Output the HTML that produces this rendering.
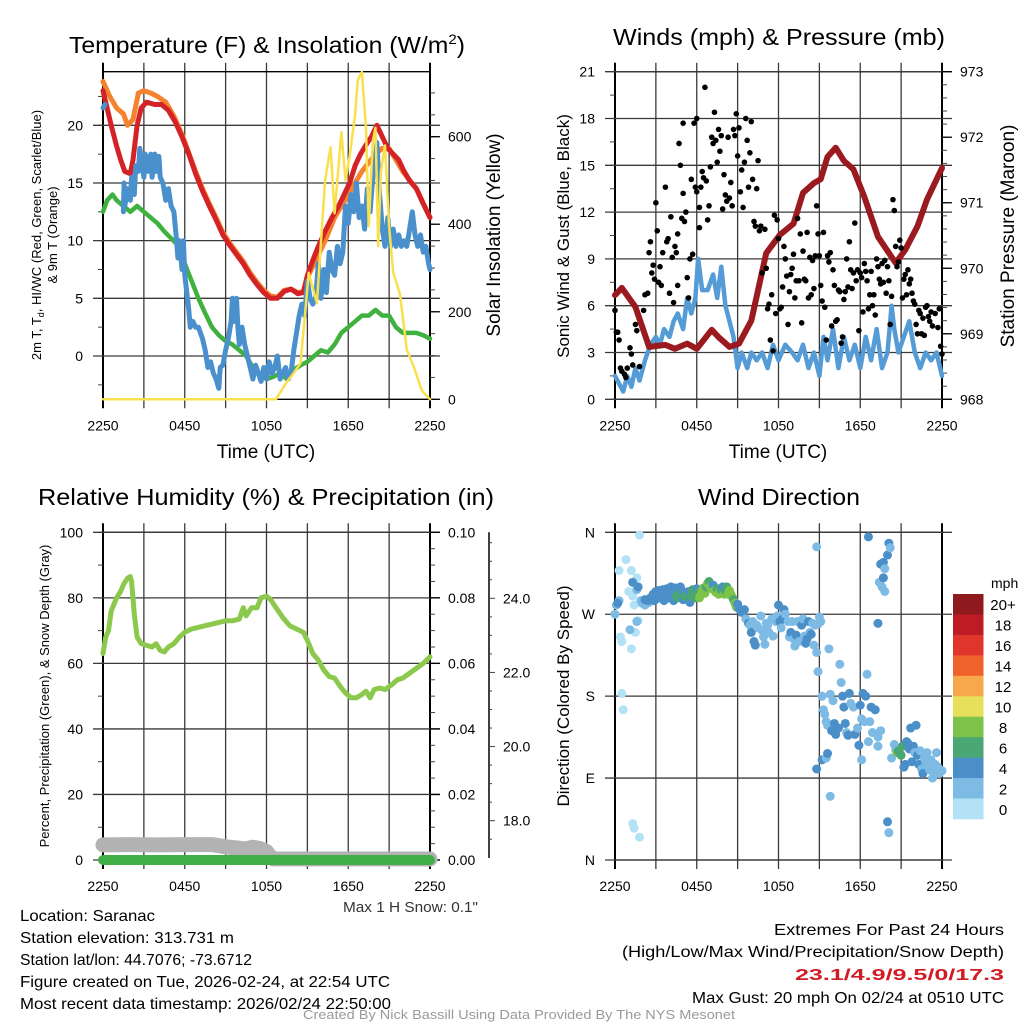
<!DOCTYPE html>
<html><head><meta charset="utf-8"><style>
html,body{margin:0;padding:0;background:#fff;}
svg{display:block;font-family:"Liberation Sans",sans-serif;}
.narrow{font-family:"Liberation Sans Narrow","Liberation Sans",sans-serif;}
</style></head><body>
<svg id="chart" width="1024" height="1024" viewBox="0 0 1024 1024" xmlns="http://www.w3.org/2000/svg">
<rect x="0" y="0" width="1024" height="1024" fill="#fff"/>
<text x="267" y="53" font-size="23" text-anchor="middle" textLength="396" lengthAdjust="spacingAndGlyphs">Temperature (F) &amp; Insolation (W/m<tspan font-size="14" dy="-9">2</tspan><tspan dy="9">)</tspan></text>
<text x="779" y="45" font-size="23" text-anchor="middle" textLength="332" lengthAdjust="spacingAndGlyphs">Winds (mph) &amp; Pressure (mb)</text>
<text x="266" y="505" font-size="23" text-anchor="middle" textLength="456" lengthAdjust="spacingAndGlyphs">Relative Humidity (%) &amp; Precipitation (in)</text>
<text x="779" y="505" font-size="23" text-anchor="middle" textLength="162" lengthAdjust="spacingAndGlyphs">Wind Direction</text>

<text x="266" y="458" font-size="19" text-anchor="middle">Time (UTC)</text>
<text x="778" y="458" font-size="19" text-anchor="middle">Time (UTC)</text>

<g transform="translate(41,235) rotate(-90)">
<text x="0" y="0" font-size="13" text-anchor="middle">2m T, T<tspan font-size="9" dy="3">d</tspan><tspan dy="-3">, HI/WC (Red, Green, Scarlet/Blue)</tspan></text>
<text x="0" y="16" font-size="13" text-anchor="middle">&amp; 9m T (Orange)</text>
</g>
<text transform="translate(500,235) rotate(-90)" font-size="19" text-anchor="middle">Solar Insolation (Yellow)</text>
<text transform="translate(569,236) rotate(-90)" font-size="17" text-anchor="middle">Sonic Wind &amp; Gust (Blue, Black)</text>
<text transform="translate(1014,236) rotate(-90)" font-size="19" text-anchor="middle">Station Pressure (Maroon)</text>
<text transform="translate(49,696) rotate(-90)" font-size="13" text-anchor="middle">Percent, Precipitation (Green), &amp; Snow Depth (Gray)</text>
<text transform="translate(569,696) rotate(-90)" font-size="17" text-anchor="middle">Direction (Colored By Speed)</text>

<text class="narrow" x="478" y="912" font-size="15" text-anchor="end" fill="#333" textLength="135" lengthAdjust="spacingAndGlyphs">Max 1 H Snow: 0.1"</text>
<g class="narrow" font-size="16" fill="#000">
<text x="20" y="921" textLength="135" lengthAdjust="spacingAndGlyphs">Location: Saranac</text>
<text x="20" y="943" textLength="214" lengthAdjust="spacingAndGlyphs">Station elevation: 313.731 m</text>
<text x="20" y="965" textLength="232" lengthAdjust="spacingAndGlyphs">Station lat/lon: 44.7076; -73.6712</text>
<text x="20" y="987" textLength="370" lengthAdjust="spacingAndGlyphs">Figure created on Tue, 2026-02-24, at 22:54 UTC</text>
<text x="20" y="1009" textLength="371" lengthAdjust="spacingAndGlyphs">Most recent data timestamp: 2026/02/24 22:50:00</text>
</g>
<g class="narrow" font-size="16" text-anchor="end">
<text x="1004" y="935" textLength="230" lengthAdjust="spacingAndGlyphs">Extremes For Past 24 Hours</text>
<text x="1004" y="957" textLength="382" lengthAdjust="spacingAndGlyphs">(High/Low/Max Wind/Precipitation/Snow Depth)</text>
<text x="1004" y="980" fill="#d01c24" font-weight="bold" textLength="209" lengthAdjust="spacingAndGlyphs">23.1/4.9/9.5/0/17.3</text>
<text x="1004" y="1003" textLength="312" lengthAdjust="spacingAndGlyphs">Max Gust: 20 mph On 02/24 at 0510 UTC</text>
</g>
<text class="narrow" x="519" y="1019" font-size="13" fill="#9a9a9a" text-anchor="middle" textLength="432" lengthAdjust="spacingAndGlyphs">Created By Nick Bassill Using Data Provided By The NYS Mesonet</text>
</svg>
<script>
// ---------- data ----------
const xTickLabels = ['2250','0450','1050','1650','2250'];
const xTickHours = [0,6,12,18,24];

const redT = [0,0.3,0.6,1.0,1.3,1.6,2.0,2.2,2.5,2.8,3.2,3.8,4.3,4.8,5.3,5.8,6.3,6.8,7.3,7.8,8.3,8.8,9.3,9.8,10.3,10.8,11.3,11.8,12.3,12.8,13.3,13.8,14.3,14.7,15.0,15.4,15.8,16.3,16.8,17.3,17.7,18.1,18.5,18.9,19.3,19.7,20.1,20.5,20.9,21.3,21.7,22.1,22.5,23.0,23.5,24];
const redV = [23.0,21.5,20,18.2,17,16,15.8,17,20,21.5,22,21.8,21.8,21.3,20.3,19,17.5,15.8,14.3,13,11.8,10.5,9.6,8.8,8,7,6.2,5.5,5.0,5.0,5.6,5.8,5.4,5.5,7,8.3,9.5,10.8,12,13,14,15,16.5,17.5,18.3,19,20,19,18,17.5,17,16,15.2,14.5,13.2,12];
const orangeT = [0,0.5,1.0,1.5,1.8,2.2,2.6,3.0,3.5,4.0,4.6,5.2,5.8,6.3,6.8,7.3,7.8,8.3,8.8,9.3,9.8,10.3,10.8,11.3,11.8,12.3,12.8,13.3,13.8,14.3,14.7,15.0,15.5,16.3,17.0,18.0,19.0,20.0,20.5,21.0,22.0,23.0,24];
const orangeV = [23.8,22.5,21.5,21,20,20.5,22.8,23,22.8,22.5,22,20.8,19.2,17.6,16,14.5,13.2,12,10.7,9.8,9,8.2,7.2,6.4,5.7,5.2,5.1,5.7,5.8,5.5,5.6,6.8,8,10,12,14,16,17.5,18,18,16,14.5,12];
const greenT = [0,0.3,0.7,1.0,1.5,2.0,2.5,3.0,3.5,4.0,4.5,5.0,5.5,6.0,6.5,7.0,7.5,8.0,8.5,9.0,9.5,10.0,10.5,11.0,11.5,12.0,12.5,13.0,13.5,14.0,14.5,15.0,15.5,16.0,16.5,17.0,17.5,18.0,18.5,19.0,19.5,20.0,20.5,21.0,21.5,22.0,22.5,23.0,23.5,24];
const greenV = [12.5,13.5,14,13.5,13,12.5,13,12.5,12,11.5,10.8,10.2,9.6,8,6.5,5,3.7,2.5,1.8,1.3,1,0.5,0,-1,-1.5,-2,-1.8,-1.5,-2,-1.2,-0.8,-0.5,0,0.5,0.3,1,2,2.5,3,3.5,3.5,4,3.5,3.5,2.5,2,2,2,1.8,1.5];
const blueT = [0,0.15,null,1.5,1.55,1.6,1.8,2.0,2.1,2.3,2.4,2.6,2.7,2.8,3.0,3.1,3.3,3.5,3.6,3.8,3.9,4.1,4.2,4.4,4.6,4.8,5.0,5.2,5.4,5.5,5.6,5.8,5.9,6.0,6.2,6.3,6.4,6.6,6.8,7.0,7.3,7.5,7.7,7.9,8.1,8.3,8.5,8.6,8.8,9.0,9.2,9.4,9.5,9.6,9.8,9.9,10.0,10.2,10.4,10.6,10.8,11.0,11.2,11.4,11.6,11.8,12.0,12.2,12.4,12.6,12.8,13.0,13.2,13.4,13.6,13.8,14.0,14.2,14.4,14.6,14.8,15.0,15.2,15.4,15.6,15.8,16.0,16.2,16.4,16.6,16.8,17.0,17.2,17.4,17.6,17.8,18.0,18.2,18.4,18.6,18.8,19.0,19.2,19.4,19.6,19.8,20.0,20.1,20.3,20.5,20.7,20.9,21.1,21.3,21.5,21.7,21.9,22.1,22.3,22.5,22.7,22.9,23.1,23.3,23.5,23.7,23.9,24];
const blueV = [21.5,21.8,null,12.5,15,13,14.5,13.5,15.5,14,16.5,16,18,17,15.5,17.5,16,17.5,15.5,17.5,16,17.3,15.5,15,13.5,14.5,13,12.5,10,8.5,10,7.5,10,7,5,4,2.5,3,2.5,2.5,1.5,0.5,-1,-0.5,-1.5,-2,-2.8,-1,-0.8,0.5,1.5,3,5,3,5,2.5,1,2.5,1,0,-1,-2,-0.8,-1.5,-2.2,-1,-2,-0.5,-1.5,-1,0,-2,-1.5,-1,-2,-1.5,0.5,2,3.5,4.5,3.5,6.5,5,4.5,5,8,5,7.5,5.5,9,7.5,7,9.5,8,9,13,11.5,14,12.5,15,12,13,11,14.5,12.5,15.5,17,18.5,14,11,9.5,12,9.5,11,9.5,10.5,9.5,10,9.5,11,12.5,10.5,9.5,10.5,9,9.5,8,7.5];
const solarT = [0,12.7,13.0,13.5,14.0,14.5,15.1,15.7,16.3,16.7,17.0,17.5,17.8,18.1,18.5,18.7,19.0,19.3,19.5,19.8,20.0,20.2,20.4,20.7,21.0,21.3,21.8,22.3,22.8,23.4,24];
const solarV = [0,0,15,40,60,83,289,220,500,576,425,610,500,555,650,730,748,620,395,590,620,350,520,580,395,290,240,113,75,20,0];
const tempTicks = [0,5,10,15,20];
const solarTicks = [0,200,400,600];

const windT = [0,0.3,0.6,0.9,1.2,1.5,1.8,2.2,2.6,3.0,3.3,3.6,4.0,4.3,4.6,5.0,5.3,5.6,5.9,6.1,6.4,6.8,7.2,7.5,7.8,8.1,8.4,8.7,9.0,9.3,9.7,10.0,10.4,10.8,11.2,11.6,12.0,12.5,13.0,13.4,13.8,14.2,14.6,15.0,15.3,15.6,16.0,16.4,16.8,17.2,17.6,18.0,18.4,18.8,19.2,19.6,20.0,20.3,20.5,20.8,21.2,21.6,22.0,22.4,22.8,23.2,23.6,24];
const windV = [1.5,1.0,0.5,1.5,0.8,2,1.2,2.5,3.5,4,3.5,4.5,4,5,5.5,4.5,6.5,5.5,6.5,9,7,7,8,6.5,8.5,6,5,4,2,3,2,3,2.5,3,2,3.5,2.5,3.5,3,2.5,3.5,2,3,1.5,4,2.5,4.5,2,4,2.5,3.5,2,4,2.5,4.5,2,3,6,4.5,3,4,5,3,2,3,2.5,3,1.5];
const pressT = [0,0.5,1.5,2.5,3.7,4.4,5.3,6.0,7.1,7.6,8.4,9.1,10.0,11.1,12.1,13.1,13.8,14.6,15.1,15.6,16.2,16.8,17.5,18.3,19.3,20.6,21.3,22.2,22.9,24];
const pressV = [969.59,969.70,969.41,968.80,968.83,968.77,968.85,968.77,969.06,968.95,968.80,968.85,969.2,970.23,970.51,970.68,971.15,971.3,971.36,971.70,971.84,971.64,971.51,971.09,970.48,970.08,970.28,970.64,971.05,971.53];
const gustT = [0,0.1,0.2,0.3,0.4,0.5,0.7,0.8,0.9,1.1,1.2,1.3,1.5,1.6,1.8,2.1,2.2,2.4,2.5,2.6,2.7,2.8,2.9,3.0,3.1,3.2,3.3,3.4,3.5,3.7,3.8,3.9,4.0,4.1,4.2,4.3,4.4,4.5,4.6,4.6,4.7,4.8,4.9,5.0,5.0,5.1,5.2,5.3,5.4,5.5,5.6,5.7,5.8,5.9,6.0,6.0,6.2,6.2,6.3,6.4,6.5,6.6,6.7,6.8,6.9,7.0,7.1,7.2,7.3,7.4,7.5,7.6,7.7,7.8,7.9,8.0,8.1,8.2,8.3,8.4,8.5,8.6,8.7,8.8,8.9,9.0,9.1,9.2,9.3,9.4,9.5,9.6,9.7,9.8,9.9,10.0,10.1,10.2,10.3,10.4,10.5,10.6,10.7,10.8,11.0,11.1,11.2,11.3,11.4,11.5,11.6,11.7,11.8,11.9,12.0,12.1,12.2,12.3,12.4,12.5,12.6,12.7,12.8,12.9,13.0,13.1,13.2,13.3,13.4,13.5,13.6,13.7,13.8,13.9,14.0,14.1,14.2,14.3,14.4,14.5,14.6,14.7,14.8,14.9,15.0,15.1,15.2,15.3,15.4,15.5,15.6,15.7,15.8,15.9,16.0,16.1,16.2,16.3,16.4,16.5,16.6,16.7,16.8,16.9,17.0,17.1,17.2,17.3,17.4,17.5,17.6,17.7,17.8,17.9,18.0,18.1,18.2,18.3,18.4,18.5,18.6,18.7,18.8,18.9,19.0,19.1,19.2,19.3,19.4,19.5,19.6,19.7,19.8,19.9,20.0,20.1,20.2,20.3,20.4,20.5,20.6,20.7,20.8,20.9,21.0,21.1,21.2,21.3,21.4,21.5,21.6,21.7,21.8,21.9,22.0,22.1,22.2,22.3,22.4,22.5,22.6,22.7,22.8,22.9,23.0,23.1,23.2,23.3,23.5,23.7,23.8,23.9,24];
const gustV = [5.7,4.3,4.3,3.8,2,1.8,1.6,1.4,2,3.3,2.9,2.2,4.8,4.4,2.1,5.7,6.7,6.8,9.4,10.1,8.1,8.6,7.7,12.6,10.8,7.5,8.5,7.3,9.4,13.6,10.1,10.3,6.8,11.7,9.1,6.2,9.8,9.4,7.3,10.6,16.4,15,11.6,17.7,13.2,11.4,12,7.8,6.5,9,14.1,9.3,17.7,13.6,18,13.3,11,12.3,13.6,14.6,14.2,20,14,11.5,12.4,14.9,16.8,16.4,18.4,16.6,15.2,17.3,15.9,16.9,12.2,14.4,13.1,12.7,16.8,12.9,13.9,12.4,17.3,16.9,18.3,15.6,17.4,13.3,14.7,12.3,15.2,18,16.6,13.6,15.8,17.8,14.1,11.4,11.1,13.5,15.3,10.8,11.1,8.1,10.9,8.4,5.8,6.1,3.8,6.7,3.1,11.8,5.5,11.5,10.3,5.8,5.9,7.2,9.8,9,7.9,4.8,6.9,8,8.4,9.3,6.5,7.6,11.6,7.6,10.6,4.9,9.5,7.7,7.6,10.7,6.5,9.1,6.7,8.9,7.1,9.2,12.4,10.6,9.2,7.3,6.3,10.7,5.9,3.8,9.2,8.8,9.4,4.7,8.3,7.3,5,5.1,7,6.9,3.6,4,6.4,6.9,9,7.2,10.1,8.3,7.1,8.1,11.3,7.6,8.3,4.4,8.1,7.8,5.6,8.7,8.2,7.6,5.8,6.7,8.2,6,6.7,5.4,9,8.5,7.7,7.4,8.7,7.5,8.9,6.8,8.5,7.6,4.8,6.6,12.8,12.1,9.8,8.5,8.8,10.2,9.7,6.5,7.7,8,6.7,8.3,7.4,7.7,6.8,6.3,6.1,4.8,4.2,5.7,5.5,4.2,5.2,4.1,5.9,6,5.3,5,5.6,4.7,5.5,4.6,5.8,3.4,2.9];
const windTicks = [0,3,6,9,12,15,18,21];
const pressTicks = [968,969,970,971,972,973];

const rhT = [0,0.2,0.4,0.6,0.8,1.0,1.3,1.5,1.8,2.0,2.1,2.3,2.5,2.8,3.2,3.6,3.9,4.2,4.5,4.8,5.2,5.6,6.0,6.5,7.0,7.5,8.0,8.5,9.0,9.5,10.0,10.3,10.5,10.9,11.3,11.6,12.0,12.3,12.7,13.2,13.7,14.2,14.7,15.0,15.4,15.8,16.2,16.6,17.0,17.4,17.8,18.2,18.6,19.0,19.3,19.6,19.9,20.3,20.7,21.2,21.6,22.0,22.5,23.0,23.5,24];
const rhV = [63,68,70,76,78,80,82,84,86,86.5,85,75,68,66,65.5,65,66,64,63.5,65,66,68,69.5,70.5,71,71.5,72,72.5,73,73,73.5,77,74.5,77,77,80,80.5,79.5,77,74,71.5,70.5,69.5,67,63,61,58,56,55.5,53,51,49.5,49.5,50.5,51.5,49.5,52,52.5,52,53.5,55,55.5,57,58.5,60,62];
const snowT = [0,2,4,6,8,8.5,9,9.5,10,10.5,11,11.5,12,12.3,12.5,24];
const snowV = [4.6,4.7,4.6,4.7,4.7,4.4,4,3.8,3.6,3.4,3.9,3.5,2.6,1.0,0.3,0.3];
const precipT = [0,24];
const precipV = [0,0];
const rhTicks = [0,20,40,60,80,100];
const precipTicks = ['0.00','0.02','0.04','0.06','0.08','0.10'];
const depthTicks = [18,20,22,24];

const dirT = [0.3,0.8,1.0,1.3,1.4,1.5,0.4,0.5,1.2,1.6,1.7,0.5,0.6,1.3,1.4,1.8,1.8,1.2,0,0.1,0.3,0.2,1.6,1.1,1.6,1.9,2.0,2.2,2.5,1.3,1.7,2.2,2.4,2.6,2.8,2.9,3.0,3.1,3.2,3.3,3.4,3.5,3.6,3.7,3.8,3.9,4.0,4.1,4.2,4.3,4.4,4.5,4.6,4.7,4.8,4.9,5.0,5.1,5.2,5.3,5.4,5.5,5.6,5.7,5.8,5.9,6.0,6.1,6.2,6.3,6.4,6.5,6.6,6.7,6.8,6.9,7.0,7.1,7.2,7.3,7.4,7.5,7.6,7.7,7.8,7.9,8.0,8.1,8.2,8.3,8.4,8.5,8.6,8.7,8.8,8.9,9.0,9.1,9.3,9.5,9.6,9.8,9.9,10.0,10.1,10.2,10.3,10.4,10.5,10.7,10.8,10.9,11.0,11.1,11.2,11.3,11.5,11.6,11.8,11.9,12.0,12.1,12.2,12.3,12.4,12.5,12.7,12.8,12.9,13.0,13.1,13.2,13.3,13.4,13.5,13.7,13.8,13.9,14.0,14.1,14.2,14.3,14.4,14.5,14.6,14.7,14.8,14.9,15.0,15.1,14.8,14.9,15.2,15.3,15.4,15.5,15.6,15.7,15.8,15.9,16.0,16.1,16.2,16.4,16.5,16.6,16.7,16.8,16.9,17.0,17.1,17.2,17.3,17.5,17.6,17.8,17.9,18.0,18.1,18.2,18.3,18.4,18.5,18.6,18.7,18.8,18.9,19.1,19.3,15.2,15.5,15.6,15.8,14.8,18.1,19.3,19.5,18.6,19.5,19.7,19.8,20.0,20.1,20.2,19.4,19.7,19.6,19.8,19.3,20.0,20.1,20.3,20.5,20.6,20.7,20.8,20.9,21.0,21.1,21.2,21.3,21.4,21.5,21.6,21.7,21.8,21.9,22.0,22.1,22.2,22.3,22.4,22.5,22.6,22.7,22.8,22.9,23.0,23.1,23.2,23.3,23.4,23.5,23.6,23.7,23.8,24.0];
const dirV = [318,330,295,290,280,250,245,240,232,310,263,183,165,40,35,25,357,318,270,280,285,282,297,253,262,285,282,280,283,305,300,286,285,288,292,285,295,290,296,288,293,297,285,290,298,292,288,300,295,285,299,290,288,293,300,296,286,290,292,288,295,283,290,297,293,288,298,294,288,291,296,299,293,300,304,306,300,298,302,296,294,298,292,295,297,300,292,296,300,292,296,292,289,286,282,278,281,276,272,275,265,260,258,250,262,240,236,258,255,268,252,245,237,260,258,250,265,246,262,268,280,262,255,265,275,270,262,245,250,262,243,235,247,262,240,258,265,246,238,243,262,250,248,260,236,258,228,259,267,262,344,207,180,165,160,152,148,232,182,142,175,150,138,145,215,195,180,168,150,140,137,183,172,168,138,145,126,170,155,183,152,180,204,130,152,168,140,165,135,110,112,117,70,100,110,125,142,355,325,327,320,335,348,343,305,310,300,295,260,42,30,112,127,121,118,120,117,115,125,102,105,130,128,122,145,108,125,118,148,115,105,120,100,95,112,108,118,103,99,110,90,98,105,118,102,95,98];
const dirS = [1,1,1,1,1,1,1,1,1,1,1,1,1,1,1,1,1,1,3,3,3,5,3,3,3,3,3,3,3,5,5,5,5,5,5,5,5,5,5,5,5,5,5,5,5,5,5,5,5,5,5,7,7,7,5,5,5,7,7,7,5,5,7,7,7,7,5,7,9,9,9,9,9,7,9,7,9,9,5,9,9,7,9,9,7,5,9,7,7,9,9,9,9,7,9,9,5,5,5,5,3,5,3,5,3,5,5,3,3,3,3,3,3,3,3,3,3,3,3,3,5,5,3,5,5,3,3,3,5,3,3,3,5,3,3,5,3,3,5,5,5,3,5,3,3,3,3,3,3,3,3,3,3,3,3,3,3,3,3,5,3,5,5,5,3,3,5,5,5,3,5,5,3,3,5,3,5,5,3,5,3,5,3,3,3,5,3,5,3,5,3,5,3,5,3,3,3,5,5,5,3,5,5,3,3,5,3,3,5,5,3,3,3,3,9,7,7,7,7,5,5,5,5,5,5,5,5,3,5,5,5,3,3,5,3,3,3,3,3,3,3,3,3,3,3,3,3,3,3,3,3];
const dirTickLabels = ['N','E','S','W','N'];
const dirTickValues = [0,90,180,270,360];
const speedBins = ['0','2','4','6','8','10','12','14','16','18','20+'];
const speedColors = ['#b3e2f7','#7ebbe4','#4a8fc7','#4aa773','#7dc34a','#e6e05a','#f7a84a','#f0622c','#e0352b','#bd1c27','#8e1a1e'];

// ---------- drawing ----------
const NS = 'http://www.w3.org/2000/svg';
const svg = document.getElementById('chart');
function mk(tag, parent, attrs) {
  const e = document.createElementNS(NS, tag);
  for (const k in attrs) e.setAttribute(k, attrs[k]);
  parent.appendChild(e);
  return e;
}
function lin(d0, d1, r0, r1) { return v => r0 + (v - d0) / (d1 - d0) * (r1 - r0); }

const P1 = {x0:103, x1:430, y0:71.7, y1:399.3};
const P2 = {x0:615, x1:942, y0:71.7, y1:399.3};
const P3 = {x0:103, x1:430, y0:532.3, y1:860};
const P4 = {x0:615, x1:942, y0:532.3, y1:860};

function frame(P, pname) {
  const g = mk('g', svg, {});
  
  
  const xs = lin(0, 24, P.x0, P.x1);
  for (let h = 0; h <= 24; h += 3) {
    const edge = (h === 0 || h === 24);
    const l = mk('line', g, {x1: xs(h), x2: xs(h), y1: P.y0 - 9, y2: P.y1 + 9, stroke: edge ? '#000' : '#3a3a3a', 'stroke-width': edge ? 2 : 1.3});
    
    
  }
  const top = mk('line', g, {x1: P.x0, x2: P.x1, y1: P.y0, y2: P.y0, stroke: '#000', 'stroke-width': 1.3});
  
  
  const bot = mk('line', g, {x1: P.x0, x2: P.x1, y1: P.y1, y2: P.y1, stroke: '#000', 'stroke-width': 1.3});
  
  
  for (let i = 0; i < xTickHours.length; i++) {
    const t = mk('text', g, {x: xs(xTickHours[i]), y: P.y1 + 31, 'font-size': 14, 'text-anchor': 'middle'});
    t.textContent = xTickLabels[i];
    
    
  }
  return xs;
}
function leftAxis(P, ys, ticks, labels, minorStep, lo, hi, pname) {
  const g = mk('g', svg, {});
  
  
  for (let v = lo; v <= hi + 1e-9; v += minorStep) {
    const y = ys(v);
    if (y < P.y0 - 0.5 || y > P.y1 + 0.5) continue;
    const m = mk('line', g, {x1: P.x0 - 5, x2: P.x0, y1: y, y2: y, stroke: '#444', 'stroke-width': 1});
    
    
  }
  for (let i = 0; i < ticks.length; i++) {
    const y = ys(ticks[i]);
    const l = mk('line', g, {x1: P.x0 - 10, x2: P.x1 + 10, y1: y, y2: y, stroke: '#3a3a3a', 'stroke-width': 1.3});
    
    
    const t = mk('text', g, {x: P.x0 - 20, y: y + 5, 'font-size': 14, 'text-anchor': 'end'});
    t.textContent = labels[i];
    
    
  }
}
function rightAxis(P, ys, ticks, labels, minorStep, lo, hi, pname) {
  const g = mk('g', svg, {});
  
  
  for (let v = lo; v <= hi + 1e-9; v += minorStep) {
    const y = ys(v);
    if (y < P.y0 - 0.5 || y > P.y1 + 0.5) continue;
    const m = mk('line', g, {x1: P.x1, x2: P.x1 + 5, y1: y, y2: y, stroke: '#444', 'stroke-width': 1});
    
    
  }
  for (let i = 0; i < ticks.length; i++) {
    const y = ys(ticks[i]);
    const l = mk('line', g, {x1: P.x1, x2: P.x1 + 10, y1: y, y2: y, stroke: '#000', 'stroke-width': 1.3});
    
    
    const t = mk('text', g, {x: P.x1 + 18, y: y + 5, 'font-size': 14});
    t.textContent = labels[i];
    
    
  }
}
function series(T, V, xs, ys, color, w, name) {
  let d = '', pen = false;
  for (let i = 0; i < T.length; i++) {
    if (T[i] === null || V[i] === null) { pen = false; continue; }
    d += (pen ? 'L' : 'M') + xs(T[i]).toFixed(1) + ' ' + ys(V[i]).toFixed(1);
    pen = true;
  }
  const p = mk('path', svg, {d: d, fill: 'none', stroke: color, 'stroke-width': w, 'stroke-linejoin': 'round', 'stroke-linecap': 'round'});
  
  
  return p;
}

// Panel 1
const xs1 = frame(P1, 'temp');
const yT = lin(0, 20, 356, 125.3);
const yS = lin(0, 600, 399.3, 136.7);
leftAxis(P1, yT, tempTicks, tempTicks.map(String), 2.5, -2.5, 27.5, 'temp');
rightAxis(P1, yS, solarTicks, solarTicks.map(String), 50, 0, 750, 'solar');
series(orangeT, orangeV, xs1, yT, '#f5822f', 5, 'temp-9m-line');
series(redT, redV, xs1, yT, '#d42327', 5, 'temp-2m-line');
series(greenT, greenV, xs1, yT, '#3fb13f', 4.5, 'dewpoint-line');
series(blueT, blueV, xs1, yT, '#4a90cc', 5, 'windchill-line');
series(solarT, solarV, xs1, yS, '#f9e04f', 2.5, 'solar-line');

// Panel 2
const xs2 = frame(P2, 'wind');
const yW = lin(0, 21, 399.3, 71.7);
const yP = lin(968, 973, 399.3, 71.7);
leftAxis(P2, yW, windTicks, windTicks.map(String), 1.5, 0, 21, 'wind');
rightAxis(P2, yP, pressTicks, pressTicks.map(String), 0.2, 968, 973, 'pressure');
series(windT, windV, xs2, yW, '#559bd6', 4.5, 'wind-speed-line');
series(pressT, pressV, xs2, yP, '#9b1a1f', 6, 'pressure-line');
for (let i = 0; i < gustT.length; i++) {
  const c = mk('circle', svg, {cx: xs2(gustT[i]), cy: yW(gustV[i]), r: 2.8, fill: '#000'});
  
  
}

// Panel 3
const xs3 = frame(P3, 'humidity');
const yR = lin(0, 100, 860, 532.3);
leftAxis(P3, yR, rhTicks, rhTicks.map(String), 10, 0, 100, 'humidity');
rightAxis(P3, yR, rhTicks, precipTicks, 5, 0, 100, 'precip');
const yD = lin(24, 18, 598.3, 820.7);
const dg = mk('g', svg, {});


const dl = mk('line', dg, {x1: 489, x2: 489, y1: 532.3, y2: 858, stroke: '#000', 'stroke-width': 1.5});


for (let v = 17.5; v <= 25.5; v += 0.5) {
  const major = depthTicks.indexOf(v) >= 0;
  const tk = mk('line', dg, {x1: 489, x2: major ? 495 : 492, y1: yD(v), y2: yD(v), stroke: '#444', 'stroke-width': 1});
  
  
}
for (let i = 0; i < depthTicks.length; i++) {
  const t = mk('text', dg, {x: 503, y: yD(depthTicks[i]) + 5, 'font-size': 14});
  t.textContent = depthTicks[i].toFixed(1);
  
  
}
series(snowT, snowV, xs3, yR, '#b3b3b3', 15, 'snow-depth-line');
series(rhT, rhV, xs3, yR, '#8cc84b', 5, 'humidity-line');
series(precipT, precipV, xs3, yR, '#3fae47', 10, 'precip-line');

// Panel 4
const xs4 = frame(P4, 'direction');
const yDir = lin(0, 360, 860, 532.3);
leftAxis(P4, yDir, dirTickValues, dirTickLabels, 90, 0, 360, 'direction');
function binIndex(s) { return Math.min(10, Math.max(0, Math.floor(s / 2))); }
for (let i = 0; i < dirT.length; i++) {
  const c = mk('circle', svg, {cx: xs4(dirT[i]), cy: yDir(dirV[i]), r: 4.5, fill: speedColors[binIndex(dirS[i])]});
  
  
}
const cb = mk('g', svg, {});


const cbTop = 594, cbH = (819 - 594) / speedBins.length;
for (let i = 0; i < speedBins.length; i++) {
  const k = speedBins.length - 1 - i;
  const r = mk('rect', cb, {x: 953, y: cbTop + i * cbH, width: 30.5, height: cbH + 0.3, fill: speedColors[k]});
  
  
  const t = mk('text', cb, {x: 1003, y: cbTop + i * cbH + cbH / 2 + 6, 'font-size': 15, 'text-anchor': 'middle'});
  t.textContent = speedBins[k];
  
  
}
const mph = mk('text', cb, {x: 991, y: 588, 'font-size': 14});
mph.textContent = 'mph';


</script>
</body></html>
